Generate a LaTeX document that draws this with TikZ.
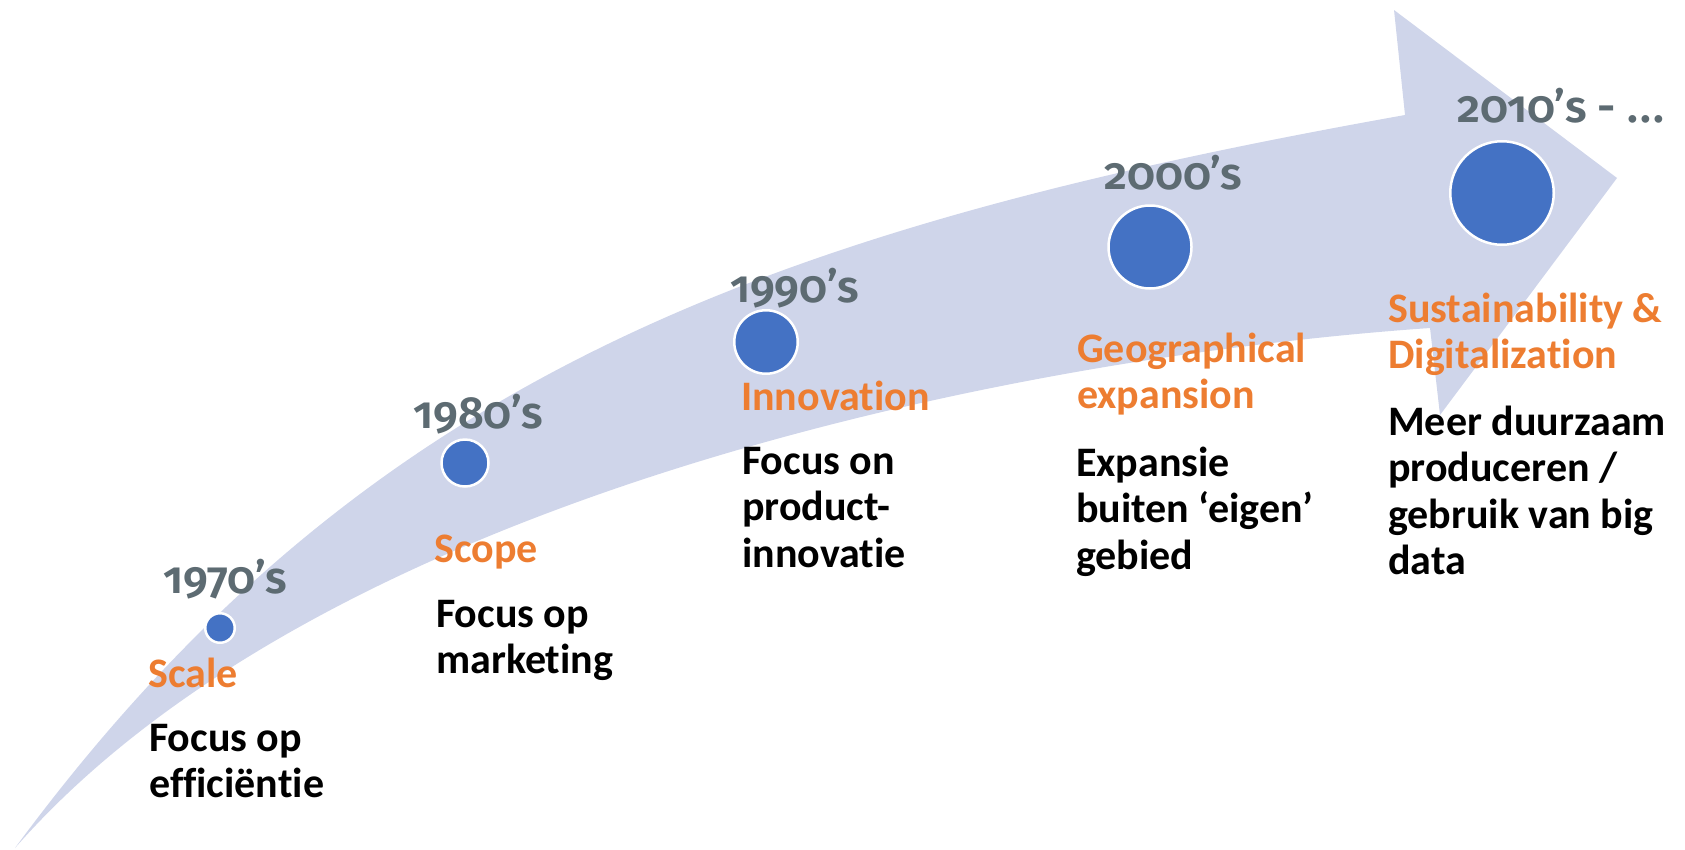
\documentclass[tikz,border=0pt]{standalone}
\usepackage{fontspec}
\setmainfont[Ligatures=NoCommon]{Carlito}
\newfontfamily\yearfont[Numbers=OldStyle,BoldFont={Fira Sans SemiBold}]{Fira Sans}
\definecolor{bandfill}{HTML}{CFD5EA}
\definecolor{dotblue}{HTML}{4472C4}
\definecolor{headorange}{HTML}{ED7D31}
\definecolor{yeargray}{HTML}{5D6B72}

\begin{document}
\begin{tikzpicture}[x=1pt,y=-1pt]
    \tikzstyle{dot}=[circle,draw=white,line width=2.5pt,fill=dotblue,inner sep=0pt]
    \tikzstyle{year}=[anchor=base west,inner sep=0pt,text=yeargray,font=\yearfont\bfseries\fontsize{45}{50}\selectfont]
    \tikzstyle{topic}=[anchor=base west,inner sep=0pt,align=left,text=headorange,font=\bfseries\fontsize{42}{46.5}\selectfont]
    \tikzstyle{note}=[anchor=base west,inner sep=0pt,align=left,text=black,font=\bfseries\fontsize{42}{46.5}\selectfont]

    \useasboundingbox (0,0) rectangle (1685,849);

    % the big curved arrow
    \fill[bandfill] (15,848) .. controls (360,380) and (760,230) .. (1405,115)
        -- (1394,10) -- (1617,178) -- (1440,415) -- (1430,328)
        .. controls (1000,358) and (320,500) .. (15,848) -- cycle;

    \node[dot, minimum size=29.5pt] (d70) at (220,628) {};
    \node[dot, minimum size=47pt] (d80) at (465,463) {};
    \node[dot, minimum size=63.5pt] (d90) at (766,342) {};
    \node[dot, minimum size=83pt] (d00) at (1150,247) {};
    \node[dot, minimum size=103.5pt] (d10) at (1502,193) {};

    \node[year] (y70) at (163,593) {1970’s};
    \node[year] (y80) at (413,428) {1980’s};
    \node[year] (y90) at (730,302) {1990’s};
    \node[year] (y00) at (1104,189) {2000’s};
    \node[year] (y10) at (1457,122) {2010’s - .\kern2.5pt.\kern2.5pt.};

    % multi-line nodes sit on the baseline of their last line
    \node[topic] (t70) at (148,687) {Scale};
    \node[note] (n70) at (149,797.5) {Focus op\\efficiëntie};
    \node[topic] (t80) at (434,562) {Scope};
    \node[note] (n80) at (436,673.5) {Focus op\\marketing};
    \node[topic] (t90) at (741,410) {Innovation};
    \node[note] (n90) at (742,567) {Focus on\\product-\\innovatie};
    \node[topic] (t00) at (1077,408.5) {Geographical\\expansion};
    \node[note] (n00) at (1076,569) {Expansie\\buiten ‘eigen’\\gebied};
    \node[topic] (t10) at (1388,368.5) {Sustainability \&\\Digitalization};
    \node[note] (n10) at (1388,574.5) {Meer duurzaam\\produceren /\\gebruik van big\\data};
\end{tikzpicture}
\end{document}
